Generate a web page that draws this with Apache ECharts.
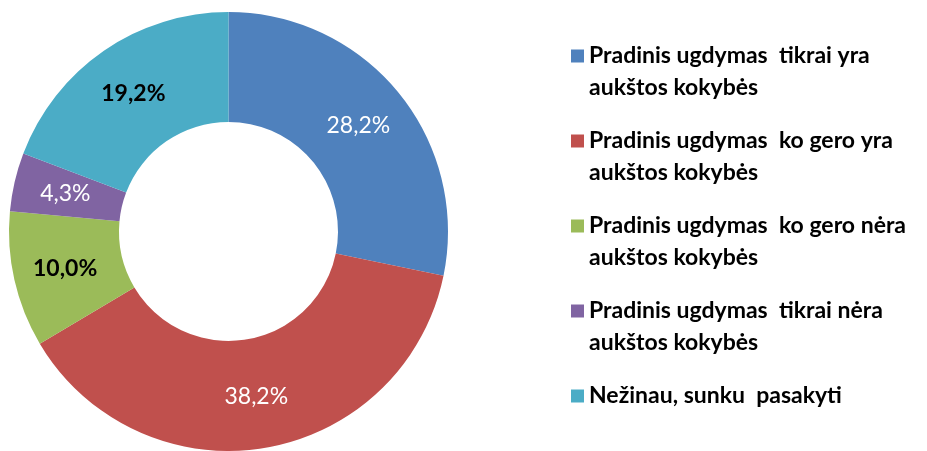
<!DOCTYPE html>
<html>
<head>
<meta charset="utf-8">
<script src="https://cdn.jsdelivr.net/npm/echarts@6/dist/echarts.min.js"></script>
<style>
  html, body { margin: 0; padding: 0; background: #fff; }
  #chart { width: 927px; height: 451px; }
</style>
</head>
<body>
<div id="chart"></div>
<script>
// Survey answers and their shares (%)
const categories = [
  'Pradinis ugdymas  tikrai yra\naukštos kokybės',
  'Pradinis ugdymas  ko gero yra\naukštos kokybės',
  'Pradinis ugdymas  ko gero nėra\naukštos kokybės',
  'Pradinis ugdymas  tikrai nėra\naukštos kokybės',
  'Nežinau, sunku  pasakyti'
];
const values = [28.2, 38.2, 10.0, 4.3, 19.2];
const colors = ['#4F81BD', '#C0504D', '#9BBB59', '#8064A2', '#4BACC6'];
const labelColors = ['#ffffff', '#ffffff', '#000000', '#ffffff', '#000000'];
const labelWeights = ['normal', 'normal', 'bold', 'normal', 'bold'];

const fontFamily = 'Lato, "Open Sans", sans-serif';

const chart = echarts.init(document.getElementById('chart'), null, { renderer: 'canvas' });

const seriesData = categories.map((name, i) => ({
  name: name,
  value: values[i],
  itemStyle: { color: colors[i] },
  label: { color: labelColors[i], fontWeight: labelWeights[i] }
}));

// The legend marker sits beside the first line of each entry:
// a blank line above (and below, for one-line entries) keeps it there.
function legendText(name) {
  return name.indexOf('\n') >= 0 ? '\n' + name : '\n' + name + '\n';
}

chart.setOption({
  animation: false,
  legend: {
    orient: 'vertical',
    left: 571,
    top: 8,
    height: 443,
    padding: 0,
    icon: 'rect',
    itemWidth: 13,
    itemHeight: 13,
    itemGap: -11,
    data: categories,
    formatter: legendText,
    textStyle: {
      fontFamily: fontFamily,
      fontSize: 23,
      fontWeight: 'bold',
      color: '#000',
      lineHeight: 32
    }
  },
  series: [{
    type: 'pie',
    center: [228.5, 231.5],
    radius: [109.5, 219.5],
    startAngle: 90,
    clockwise: true,
    data: seriesData,
    label: {
      show: true,
      position: 'inside',
      fontFamily: fontFamily,
      fontSize: 23,
      formatter: (p) => p.value.toFixed(1).replace('.', ',') + '%'
    },
    labelLine: { show: false },
    emphasis: { disabled: true }
  }]
});
</script>
</body>
</html>
